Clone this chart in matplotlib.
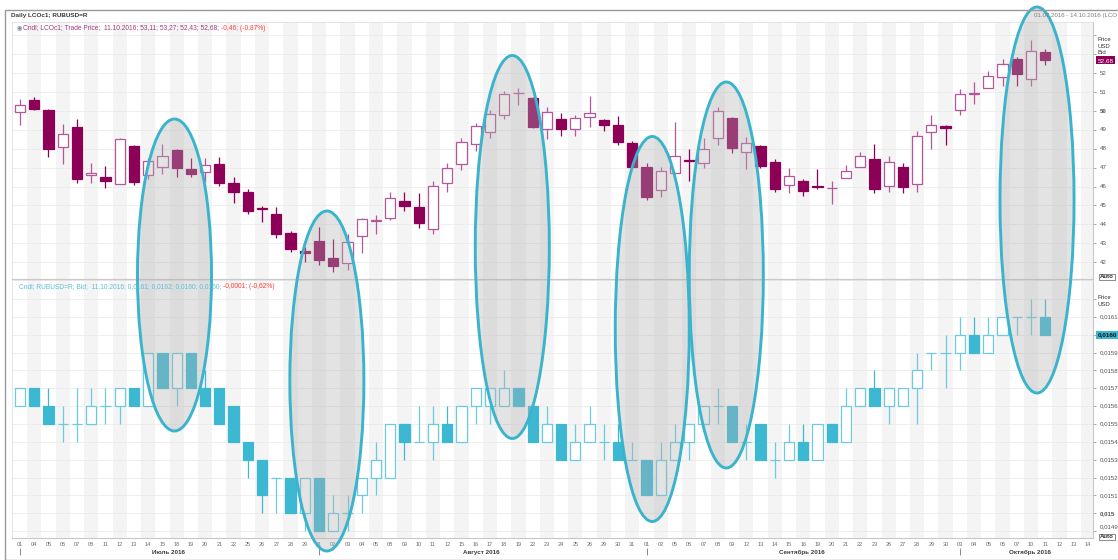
import matplotlib
matplotlib.use("Agg")
import matplotlib.pyplot as plt
import matplotlib.transforms as mtransforms
from matplotlib.patches import Ellipse, Rectangle
import numpy as np

plt.rcParams['font.family'] = ['Liberation Sans', 'DejaVu Sans']

# trading days shown on the x axis (July 1 - October 14, 2016)
DAYS = ["01", "04", "05", "06", "07", "08", "11", "12", "13", "14", "15", "18", "19", "20", "21", "22", "25", "26", "27", "28", "29",
        "01", "02", "03", "04", "05", "08", "09", "10", "11", "12", "15", "16", "17", "18", "19", "22", "23", "24", "25", "26", "29", "30", "31",
        "01", "02", "05", "06", "07", "08", "09", "12", "13", "14", "15", "16", "19", "20", "21", "22", "23", "26", "27", "28", "29", "30",
        "03", "04", "05", "06", "07", "10", "11", "12", "13", "14"]
MONTHS = ["Июль 2016", "Август 2016", "Сентябрь 2016", "Октябрь 2016"]
MONTH_START = [0, 21, 44, 66]
MONTH_END = [20, 43, 65, 75]

# LCOc1 daily candles (USD)
lco_open = [49.97, 50.58, 50.04, 48.08, 49.14, 46.61, 46.49, 46.16, 48.15, 46.61, 47.06, 47.94, 46.93, 46.77, 47.18, 46.21,
            45.70, 44.87, 44.55, 43.53, 42.58, 43.12, 42.21, 41.97, 43.41, 44.20, 44.36, 45.24, 44.90, 43.77, 46.21, 47.18,
            48.26, 48.91, 49.77, 50.94, 50.71, 49.05, 49.56, 49.05, 49.70, 49.52, 49.26, 48.33, 47.02, 45.82, 46.70, 47.40,
            47.23, 48.55, 49.61, 47.81, 48.17, 47.32, 46.08, 46.30, 46.02, 45.90, 46.47, 47.02, 47.44, 46.03, 47.05, 46.14,
            48.91, 49.21, 50.05, 50.90, 51.23, 51.78, 52.73, 51.68, 53.11]
lco_high = [50.62, 50.72, 50.09, 49.31, 49.59, 47.23, 47.09, 48.59, 48.20, 47.50, 48.26, 47.97, 47.50, 47.50, 47.55, 46.49,
            45.87, 44.97, 44.90, 43.67, 42.79, 43.85, 43.21, 43.49, 44.36, 44.50, 45.73, 45.73, 45.68, 46.30, 47.23, 48.55,
            49.38, 50.05, 51.06, 51.20, 50.72, 50.23, 49.88, 49.79, 50.79, 49.58, 49.74, 48.43, 47.27, 47.06, 49.44, 47.99,
            48.55, 50.23, 49.70, 48.64, 48.20, 47.46, 46.97, 46.38, 46.91, 46.30, 47.14, 47.85, 48.26, 47.64, 47.27, 48.96,
            49.79, 49.26, 51.15, 51.55, 52.12, 52.73, 52.88, 53.76, 53.27]
lco_low = [49.26, 50.05, 47.58, 47.20, 46.17, 46.17, 45.94, 46.12, 46.08, 46.38, 46.65, 46.53, 46.53, 46.26, 46.03, 45.15,
           44.55, 44.14, 43.30, 42.56, 42.03, 41.85, 41.50, 41.59, 42.51, 43.49, 44.23, 44.73, 43.79, 43.47, 45.73, 46.88,
           47.90, 48.55, 49.56, 50.32, 49.08, 48.52, 48.68, 48.70, 49.14, 48.96, 48.20, 46.97, 45.29, 45.43, 46.70, 46.30,
           47.00, 48.20, 47.76, 46.91, 46.97, 45.73, 45.68, 45.50, 45.87, 45.08, 46.44, 47.02, 45.68, 45.73, 45.64, 45.70,
           47.99, 48.20, 49.79, 50.35, 51.23, 51.34, 51.34, 51.32, 52.43]
lco_close = [50.32, 50.09, 47.97, 48.77, 46.42, 46.74, 46.28, 48.50, 46.24, 47.37, 47.62, 46.97, 46.67, 47.14, 46.21, 45.71,
             44.73, 44.84, 43.49, 42.68, 42.51, 42.12, 41.80, 43.09, 44.29, 44.25, 45.38, 44.99, 44.06, 46.03, 46.97, 48.34,
             49.21, 49.82, 50.88, 50.97, 49.17, 49.96, 49.05, 49.65, 49.91, 49.26, 48.38, 47.02, 45.47, 46.83, 47.64, 47.35,
             47.99, 50.02, 48.02, 48.33, 47.09, 45.86, 46.58, 45.79, 45.98, 45.93, 46.83, 47.64, 45.87, 47.32, 45.99, 48.70,
             49.24, 49.08, 50.88, 50.95, 51.87, 52.49, 51.96, 53.17, 52.68]

# RUBUSD=R bid candles, in units of 0.0001 USD
rub_open = [156, 157, 156, 155, 155, 155, 156, 156, 157, 156, 159, 157, 159, 157, 157, 156, 154, 153, 152, 152, 150, 152, 149, 150,
            151, 152, 152, 155, 154, 154, 155, 154, 156, 156, 156, 157, 156, 154, 155, 153, 154, 154, 154, 153, 153, 151, 153, 154,
            155, 156, 156, 154, 155, 153, 153, 154, 153, 155, 154, 156, 157, 156, 156, 157, 159, 159, 159, 160, 159, 160, 161, 161, 161]
rub_high = [157, 157, 157, 156, 157, 157, 157, 157, 157, 159, 159, 159, 159, 158, 157, 156, 154, 153, 152, 152, 152, 152, 151, 151,
            152, 154, 155, 155, 156, 156, 156, 156, 157, 157, 158, 157, 156, 156, 155, 155, 156, 155, 155, 154, 153, 154, 155, 155,
            156, 157, 156, 155, 155, 154, 155, 155, 155, 155, 157, 157, 158, 157, 157, 159, 159, 160, 161, 161, 161, 161, 161, 162, 162]
rub_low = [156, 156, 155, 154, 154, 155, 155, 155, 156, 156, 157, 156, 157, 156, 155, 154, 152, 150, 150, 150, 149, 149, 149, 149,
           150, 151, 152, 153, 154, 153, 154, 154, 155, 155, 156, 156, 154, 154, 153, 153, 154, 153, 153, 153, 151, 151, 153, 153,
           155, 155, 154, 153, 153, 152, 153, 153, 153, 154, 154, 156, 156, 155, 156, 155, 158, 157, 158, 159, 159, 160, 160, 160, 160]
rub_close = [157, 156, 155, 155, 155, 156, 156, 157, 156, 159, 157, 159, 157, 156, 155, 154, 153, 151, 152, 150, 152, 149, 150, 150,
             152, 153, 155, 154, 154, 155, 154, 156, 157, 157, 157, 156, 154, 155, 153, 154, 155, 154, 153, 153, 151, 153, 154, 155,
             156, 156, 154, 154, 153, 153, 154, 153, 155, 154, 156, 157, 156, 157, 157, 158, 159, 159, 160, 159, 160, 161, 161, 161, 160]

# highlighted periods: centre day, centre height (px from top), height (px)
ell_day = [10.85, 21.55, 34.57, 44.4, 49.6, 71.42]
ell_yc = [275, 381, 247, 329, 275, 200]
ell_h = [312, 340, 383, 385, 386, 386]
ELL_W = 5.2

W, H = 1118, 560
STEP, X0 = 14.24, 20.0          # px per trading day, px of first day
PLOT_L, PLOT_R = 12, 1093
XLIM = ((PLOT_L - X0) / STEP, (PLOT_R - X0) / STEP)


def fx(px):
    return px / W


def fy(py):
    return 1 - py / H


def candles(ax, o, h, l, c, up_edge, dn_col, lw=0.9):
    o, h, l, c = (np.asarray(a, dtype=float) for a in (o, h, l, c))
    x = np.arange(len(o))
    up = c >= o
    dn = ~up
    ax.vlines(x[up], l[up], h[up], color=up_edge, lw=lw, zorder=2)
    ax.vlines(x[dn], l[dn], h[dn], color=dn_col, lw=lw, zorder=2)
    body_lo = np.minimum(o, c)
    body_h = np.abs(c - o)
    ax.bar(x[up], body_h[up], bottom=body_lo[up], width=0.72, facecolor='white',
           edgecolor=up_edge, lw=lw, zorder=3)
    ax.bar(x[dn], body_h[dn], bottom=body_lo[dn], width=0.72, facecolor=dn_col,
           edgecolor=dn_col, lw=lw, zorder=3)


def base_panel(ax, ylim, grid_vals):
    ax.set_xlim(*XLIM)
    ax.set_ylim(*ylim)
    for i in range(1, len(DAYS), 2):
        ax.axvspan(i - 0.5, i + 0.5, color='#f4f4f4', lw=0, zorder=0)
    ax.set_yticks(grid_vals)
    ax.grid(axis='y', color='#ebebeb', lw=0.6, zorder=1)
    ax.yaxis.tick_right()
    ax.tick_params(axis='y', length=2.5, width=0.6, color='#999999', labelright=False, pad=1)
    for s in ['top', 'left']:
        ax.spines[s].set_color('#e0e0e0')
        ax.spines[s].set_linewidth(0.6)
    for s in ['right', 'bottom']:
        ax.spines[s].set_color('#c8c8c8')
        ax.spines[s].set_linewidth(0.8)


fig = plt.figure(figsize=(W / 100, H / 100), dpi=100)
fig.patch.set_facecolor('white')

# outer frame
fig.add_artist(Rectangle((fx(5), 0), 1, fy(10), transform=fig.transFigure, fill=False,
                         ec='#9a9a9a', lw=1.0))
fig.text(fx(11), fy(16), "Daily LCOc1; RUBUSD=R", fontsize=4.6, fontweight='bold',
         color='#3a3a3a', va='center')
fig.text(fx(1117), fy(16), "01.07.2016 - 14.10.2016 (LCO", fontsize=4.4,
         color='#7a7a7a', va='center', ha='right')

# ---- top panel: Brent
ax_top = fig.add_axes([fx(PLOT_L), fy(279), fx(PLOT_R - PLOT_L), (279 - 22) / H])
base_panel(ax_top, (41.11, 54.71), np.arange(42, 55))
ax_top.set_xticks([])
candles(ax_top, lco_open, lco_high, lco_low, lco_close, '#b6569a', '#8c0057')

bt = mtransforms.blended_transform_factory(ax_top.transAxes, ax_top.transData)
for v in range(42, 53):
    ax_top.text(1.006, v, str(v), transform=bt, fontsize=4.4, color='#555555',
                fontweight='bold' if v == 50 else 'normal', va='center', ha='left')
ax_top.text(1.004, 52.68, "52,68", transform=bt, fontsize=4.6, color='white', va='center',
            ha='left', bbox=dict(boxstyle='square,pad=0.25', fc='#8c0057', ec='none'))
fig.text(fx(1098), fy(46), "Price\nUSD\nBid", fontsize=4.3, color='#333333', va='center',
         ha='left', linespacing=1.3)

fig.text(fx(17), fy(28), "\u25c9", fontsize=4.4, color='#6d86a6', va='center')
t1 = fig.text(fx(23), fy(28), "Cndl; LCOc1; Trade Price;  11.10.2016; 53,11; 53,27; 52,43; 52,68; ",
              fontsize=4.8, color='#a33a82', va='center')
ax_top.annotate("-0,46; (-0,87%)", xy=(1, 0.5), xycoords=t1, va='center', ha='left',
                fontsize=4.8, color='#ff3c3c', annotation_clip=False)

# ---- bottom panel: RUB/USD
ax_bot = fig.add_axes([fx(PLOT_L), fy(538), fx(PLOT_R - PLOT_L), (538 - 280) / H])
base_panel(ax_bot, (148.62e-4, 163.06e-4), np.arange(149, 163) * 1e-4)
candles(ax_bot, np.array(rub_open) * 1e-4, np.array(rub_high) * 1e-4,
        np.array(rub_low) * 1e-4, np.array(rub_close) * 1e-4, '#6ccadf', '#3db8d2')

bb = mtransforms.blended_transform_factory(ax_bot.transAxes, ax_bot.transData)
for v in range(149, 162):
    if v == 160:
        continue
    lab = "0,015" if v == 150 else "0,0" + str(v)
    yv = v * 1e-4 + (0.25e-4 if v == 149 else 0)
    ax_bot.text(1.006, yv, lab, transform=bb, fontsize=4.4, color='#555555',
                fontweight='bold' if v == 150 else 'normal', va='center', ha='left')
ax_bot.text(1.004, 160e-4, "0,0160", transform=bb, fontsize=4.6, color='#111111',
            fontweight='bold', va='center', ha='left',
            bbox=dict(boxstyle='square,pad=0.25', fc='#3db8d2', ec='none'))
fig.text(fx(1098), fy(301), "Price\nUSD", fontsize=4.3, color='#333333', va='center',
         ha='left', linespacing=1.3)

t2 = fig.text(fx(19), fy(287), "Cndl; RUBUSD=R; Bid;  11.10.2016; 0,0161; 0,0162; 0,0160; 0,0160; ",
              fontsize=4.8, color='#5cc0d8', va='center')
ax_bot.annotate("-0,0001; (-0,62%)", xy=(1, 0.5), xycoords=t2, va='center', ha='left',
                fontsize=4.8, color='#ff3c3c', annotation_clip=False)

for ypx in (277, 537):
    fig.text(fx(1100), fy(ypx), "Auto", fontsize=4.3, color='#333333', va='center', ha='left',
             fontweight='bold', bbox=dict(boxstyle='square,pad=0.15', fc='white', ec='#777777', lw=0.6))

# x axis: day numbers and months
ax_bot.set_xticks(np.arange(len(DAYS)))
ax_bot.set_xticklabels(DAYS)
ax_bot.tick_params(axis='x', length=0, labelsize=4.0, labelcolor='#6a6a6a', pad=3)
bx = mtransforms.blended_transform_factory(ax_bot.transData, ax_bot.transAxes)
ax_bot.vlines(MONTH_START, -0.065, -0.04, transform=bx, color='#777777', lw=0.6, clip_on=False)
for name, s, e in zip(MONTHS, MONTH_START, MONTH_END):
    ax_bot.text((s + e) / 2 + 0.4, -0.058, name, transform=bx, fontsize=4.5, fontweight='bold',
                color='#3a3a3a', ha='center', va='center')

# ---- ellipse overlay across both panels
ov = fig.add_axes([0, 0, 1, 1])
ov.set_xlim(-X0 / STEP, (W - X0) / STEP)
ov.set_ylim(H, 0)
ov.axis('off')
ov.patch.set_alpha(0)
for d, yc, hh in zip(ell_day, ell_yc, ell_h):
    ov.add_patch(Ellipse((d, yc), ELL_W, hh, facecolor=(0.69, 0.69, 0.69, 0.35),
                         edgecolor='#3ab4cc', lw=2.1, zorder=5))

fig.savefig("out.png", dpi=100)
